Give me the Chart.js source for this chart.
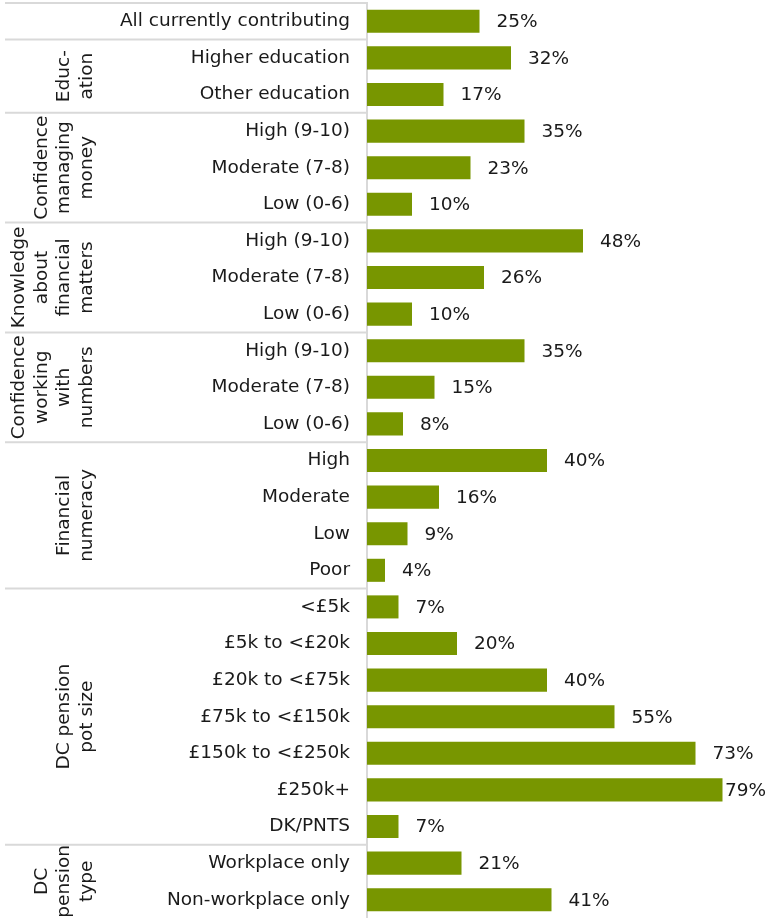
<!DOCTYPE html>
<html>
<head>
<meta charset="utf-8">
<script src="https://cdn.jsdelivr.net/npm/chart.js@4/dist/chart.umd.min.js"></script>
<style>
  body { margin: 0; background: #fff; }
  #box { width: 769px; height: 918px; position: relative; }
</style>
</head>
<body>
<div id="box"><canvas id="grafico"></canvas></div>
<script>
// categorias (de cima para baixo)
const categorias = [
  'All currently contributing',
  'Higher education', 'Other education',
  'High (9-10)', 'Moderate (7-8)', 'Low (0-6)',
  'High (9-10)', 'Moderate (7-8)', 'Low (0-6)',
  'High (9-10)', 'Moderate (7-8)', 'Low (0-6)',
  'High', 'Moderate', 'Low', 'Poor',
  '<£5k', '£5k to <£20k', '£20k to <£75k', '£75k to <£150k', '£150k to <£250k', '£250k+', 'DK/PNTS',
  'Workplace only', 'Non-workplace only'
];

// percentagens
const valores = [25, 32, 17, 35, 23, 10, 48, 26, 10, 35, 15, 8, 40, 16, 9, 4, 7, 20, 40, 55, 73, 79, 7, 21, 41];

// grupos: quantidade de categorias e texto (linhas)
const tamanhosGrupos = [1, 2, 3, 3, 3, 4, 7, 2];
const nomesGrupos = [
  [],
  ['Educ-', 'ation'],
  ['Confidence', 'managing', 'money'],
  ['Knowledge', 'about', 'financial', 'matters'],
  ['Confidence', 'working', 'with', 'numbers'],
  ['Financial', 'numeracy'],
  ['DC pension', 'pot size'],
  ['DC', 'pension', 'type']
];

const FONTE = '"DejaVu Sans", Verdana, sans-serif';
const TAM = 18.5;
const COR_LINHA = '#d9d9d9';
const COR_TEXTO = '#1a1a1a';

// desenha separadores e nomes dos grupos à esquerda
const pluginGrupos = {
  id: 'grupos',
  afterDraw(chart) {
    const ctx = chart.ctx;
    const y = chart.scales.y;
    const esq = chart.chartArea.left;
    const meio = (i) => (y.getPixelForValue(i - 1) + y.getPixelForValue(i)) / 2;
    ctx.save();
    ctx.strokeStyle = COR_LINHA;
    ctx.lineWidth = 2;
    let inicio = 0;
    tamanhosGrupos.forEach((tam, g) => {
      const topo = inicio === 0 ? chart.chartArea.top : meio(inicio);
      ctx.beginPath();
      ctx.moveTo(5, topo);
      ctx.lineTo(esq, topo);
      ctx.stroke();

      const fimIdx = inicio + tam;
      const base = fimIdx >= categorias.length ? chart.chartArea.bottom : meio(fimIdx);
      const centro = (topo + base) / 2;
      const linhas = nomesGrupos[g];
      ctx.save();
      ctx.translate(0, centro);
      ctx.rotate(-Math.PI / 2);
      ctx.fillStyle = COR_TEXTO;
      ctx.font = TAM + 'px ' + FONTE;
      ctx.textAlign = 'center';
      ctx.textBaseline = 'middle';
      linhas.forEach((txt, k) => {
        const x = 87 - (linhas.length - 1 - k) * 22.5;
        ctx.fillText(txt, 0, x);
      });
      ctx.restore();
      inicio = fimIdx;
    });
    ctx.restore();
  }
};

// rótulos de valor depois das barras
const pluginValores = {
  id: 'valores',
  afterDatasetsDraw(chart) {
    const ctx = chart.ctx;
    const meta = chart.getDatasetMeta(0);
    ctx.save();
    ctx.font = TAM + 'px ' + FONTE;
    ctx.fillStyle = COR_TEXTO;
    ctx.textBaseline = 'middle';
    ctx.textAlign = 'left';
    meta.data.forEach((barra, i) => {
      const txt = valores[i] + '%';
      const w = ctx.measureText(txt).width;
      const x = Math.min(barra.x + 17, chart.width - w - 3);
      ctx.fillText(txt, x, barra.y + 1);
    });
    ctx.restore();
  }
};

const chart = new Chart(document.getElementById('grafico'), {
  type: 'bar',
  data: {
    labels: categorias,
    datasets: [{
      data: valores,
      backgroundColor: '#789600',
      borderWidth: 0,
      barPercentage: 0.63,
      categoryPercentage: 1
    }]
  },
  options: {
    indexAxis: 'y',
    responsive: true,
    maintainAspectRatio: false,
    animation: false,
    layout: { padding: { top: 3, right: 6, bottom: 0, left: 0 } },
    plugins: { legend: { display: false }, tooltip: { enabled: false } },
    scales: {
      x: { display: false, min: 0, max: 88 },
      y: {
        afterFit(scale) {
          scale.width = 367;
          scale.paddingTop = 0;
          scale.paddingBottom = 0;
        },
        grid: { display: false, drawTicks: false },
        border: { display: true, color: COR_LINHA, width: 2 },
        ticks: {
          color: COR_TEXTO,
          padding: 17,
          autoSkip: false,
          font: { family: FONTE, size: TAM }
        }
      }
    }
  },
  plugins: [pluginGrupos, pluginValores]
});
</script>
</body>
</html>
